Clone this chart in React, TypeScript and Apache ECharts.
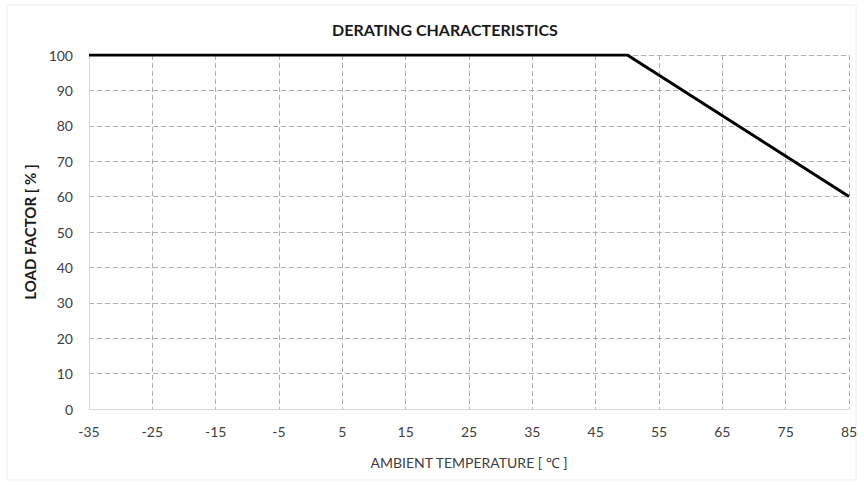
import React, { useEffect, useRef } from "react";
import * as echarts from "echarts";

const titleText = "DERATING CHARACTERISTICS";
const xAxisName = "AMBIENT TEMPERATURE [ ℃ ]";
const yAxisName = "LOAD FACTOR [ % ]";
const temperatures = [-35, 50, 85];
const loadFactors = [100, 100, 60];
const xMin = -35;
const xMax = 85;
const xStep = 10;
const yMin = 0;
const yMax = 100;
const yStep = 10;

const FONT = "Lato, 'Open Sans', sans-serif";

export default function App() {
  const ref = useRef<HTMLDivElement>(null);
  useEffect(() => {
    if (!ref.current) return;
    const chart = echarts.init(ref.current, undefined, { renderer: "svg" });
    chart.setOption({
      animation: false,
      backgroundColor: "#ffffff",
      textStyle: { fontFamily: FONT },
      title: {
        text: titleText,
        left: 440,
        top: 16,
        textAlign: "center",
        textStyle: { fontFamily: FONT, fontSize: 16, fontWeight: "bold", color: "#1a1a1a" },
      },
      graphic: [
        {
          type: "rect",
          shape: { x: 7, y: 5, width: 849, height: 475 },
          style: { fill: "none", stroke: "#eeeeee", lineWidth: 1 },
          silent: true,
          z: -1,
        },
      ],
      grid: { left: 89, right: 15, top: 55, bottom: 76 },
      xAxis: {
        type: "value",
        min: xMin,
        max: xMax,
        interval: xStep,
        name: xAxisName,
        nameLocation: "middle",
        nameGap: 46,
        nameTextStyle: { fontFamily: FONT, fontSize: 14, color: "#404040" },
        axisLine: { show: true, onZero: false, lineStyle: { color: "#d9d9d9", width: 1 } },
        axisTick: { show: false },
        axisLabel: { margin: 15, fontSize: 14, color: "#404040", fontFamily: FONT },
        splitLine: { show: true, lineStyle: { color: "#b0b0b0", type: [5, 3], width: 1 } },
      },
      yAxis: {
        type: "value",
        min: yMin,
        max: yMax,
        interval: yStep,
        name: yAxisName,
        nameLocation: "middle",
        nameGap: 39,
        nameRotate: 90,
        nameTextStyle: { fontFamily: FONT, fontSize: 15, fontWeight: "bold", color: "#1a1a1a" },
        axisLine: { show: true, onZero: false, lineStyle: { color: "#d9d9d9", width: 1 } },
        axisTick: { show: false },
        axisLabel: { margin: 16, fontSize: 14, color: "#404040", fontFamily: FONT },
        splitLine: { show: true, lineStyle: { color: "#b0b0b0", type: [5, 3], width: 1 } },
      },
      series: [
        {
          type: "line",
          data: temperatures.map((t, i) => [t, loadFactors[i]]),
          symbol: "none",
          lineStyle: { color: "#000000", width: 3 },
          z: 10,
        },
      ],
    });
    return () => chart.dispose();
  }, []);
  return (
    <div
      ref={ref}
      style={{ position: "fixed", left: 0, top: 0, width: 864, height: 485 }}
    />
  );
}
